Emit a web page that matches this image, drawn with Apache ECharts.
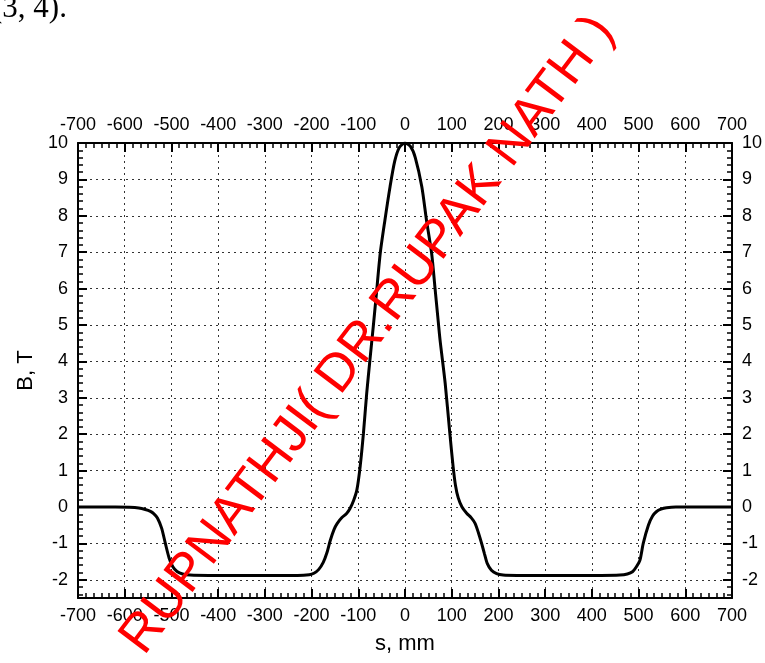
<!DOCTYPE html>
<html>
<head>
<meta charset="utf-8">
<script src="https://cdn.jsdelivr.net/npm/echarts@6/dist/echarts.min.js"></script>
<style>
  html, body { margin: 0; padding: 0; background: #fff; }
  #chart { width: 765px; height: 663px; }
</style>
</head>
<body>
<div id="chart"></div>
<script>
// field profile along the axis
const sValues = [
  -700, -620, -590, -570, -556, -545, -538, -530, -521, -513, -505, -497, -488, -476, -460, -420,
  -300, -230, -205, -195, -185, -175, -167, -160, -152, -145, -135, -125, -118, -110, -103, -96,
  -89, -82, -75, -68, -62, -53, -43, -32, -22, -12, 0, 12, 22, 36, 46, 57,
  64, 70, 75, 86, 96, 103, 108, 114, 122, 132, 142, 150, 157, 164, 170, 176,
  185, 196, 210, 240, 300, 420, 460, 476, 487, 495, 503, 510, 521, 530, 538, 548,
  560, 580, 620, 700
];
const bValues = [
  0, 0, -0.01, -0.03, -0.07, -0.12, -0.18, -0.3, -0.58, -1.0, -1.4, -1.64, -1.77, -1.84, -1.87, -1.88,
  -1.88, -1.88, -1.86, -1.82, -1.72, -1.52, -1.25, -0.92, -0.62, -0.45, -0.29, -0.18, -0.05, 0.18, 0.47, 1.11,
  2.02, 3.12, 4.05, 4.95, 5.75, 6.97, 7.88, 8.8, 9.5, 9.88, 10, 9.9, 9.6, 8.8, 7.88, 6.97,
  6.05, 5.25, 4.59, 3.4, 2.02, 1.11, 0.6, 0.25, 0.0, -0.17, -0.3, -0.45, -0.7, -1.0, -1.28, -1.55,
  -1.74, -1.83, -1.87, -1.88, -1.88, -1.88, -1.87, -1.84, -1.78, -1.65, -1.46, -1.0, -0.5, -0.25, -0.13, -0.06,
  -0.02, 0, 0, 0
];

const xRange = [-700, 700];
const xStep = 100;
const yRange = [-2.5, 10];

const watermark = 'RUPNATHJI( DR.RUPAK NATH )';
const topText = '(3, 4).';

const chart = echarts.init(document.getElementById('chart'));

const sans = 'Liberation Sans, Arial, sans-serif';
const labelFont = { color: '#000', fontSize: 18, fontFamily: sans };
const frameLine = { show: true, onZero: false, lineStyle: { color: '#000', width: 2 } };
const majorTick = { show: true, inside: true, length: 9, lineStyle: { color: '#000', width: 2 } };
const minorTick = (n) => ({ show: true, splitNumber: n, length: 5, lineStyle: { color: '#000', width: 1.5 } });
const dotted = { show: true, lineStyle: { color: '#333', width: 1, type: [2, 4] } };
const intOnly = (v) => (Number.isInteger(v) ? String(v) : '');

const xBase = {
  type: 'value', min: xRange[0], max: xRange[1], interval: xStep,
  axisLine: frameLine, axisTick: majorTick, minorTick: minorTick(6),
  axisLabel: Object.assign({ margin: 9 }, labelFont)
};
const yBase = {
  type: 'value', min: yRange[0], max: yRange[1], splitNumber: 12,
  axisLine: frameLine, axisTick: majorTick, minorTick: minorTick(5),
  axisLabel: Object.assign({ margin: 10, formatter: intOnly }, labelFont)
};

const option = {
  backgroundColor: '#fff',
  animation: false,
  grid: { left: 78, right: 33, top: 143, bottom: 65, outerBoundsMode: 'none' },
  xAxis: [
    Object.assign({}, xBase, {
      position: 'bottom', splitLine: dotted,
      name: 's, mm', nameLocation: 'middle', nameGap: 35,
      nameTextStyle: { color: '#000', fontSize: 22, fontFamily: sans }
    }),
    Object.assign({}, xBase, { position: 'top', splitLine: { show: false } })
  ],
  yAxis: [
    Object.assign({}, yBase, {
      position: 'left', splitLine: dotted,
      name: 'B, T', nameLocation: 'middle', nameGap: 30,
      nameTextStyle: { color: '#000', fontSize: 22, fontFamily: sans }
    }),
    Object.assign({}, yBase, { position: 'right', splitLine: { show: false } })
  ],
  series: [{
    type: 'line',
    xAxisIndex: 0,
    yAxisIndex: 0,
    showSymbol: false,
    smooth: 0.25,
    lineStyle: { color: '#000', width: 3 },
    data: sValues.map((s, i) => [s, bValues[i]])
  }],
  graphic: [
    {
      type: 'text', x: -8, y: -7, z: 10,
      style: { text: topText, fill: '#000', font: '31px "Liberation Serif", "Times New Roman", serif', verticalAlign: 'top' }
    },
    {
      type: 'text', x: 368, y: 335, z: 100,
      rotation: 53 * Math.PI / 180,
      style: {
        text: watermark, fill: '#ff0000',
        font: '53px "Liberation Sans", Arial, sans-serif',
        align: 'center', verticalAlign: 'middle'
      }
    }
  ]
};

chart.setOption(option);
</script>
</body>
</html>
